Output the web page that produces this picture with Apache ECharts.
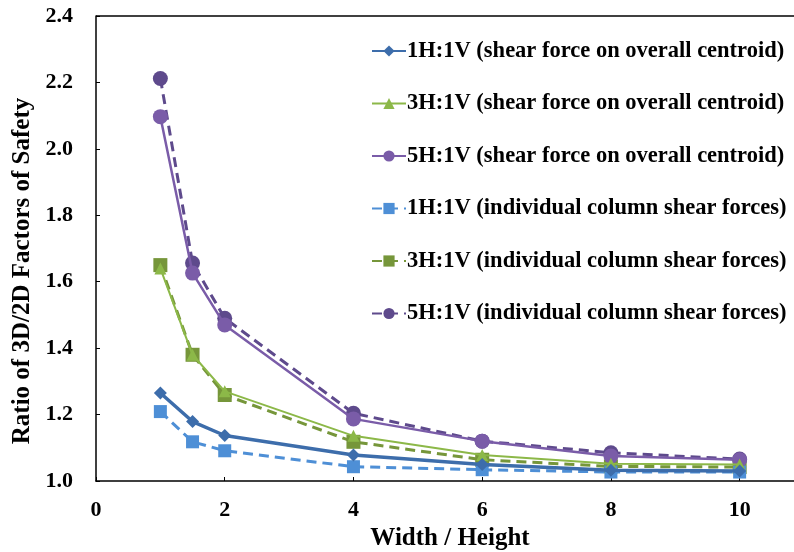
<!DOCTYPE html>
<html>
<head>
<meta charset="utf-8">
<script src="https://cdn.jsdelivr.net/npm/echarts@6/dist/echarts.min.js"></script>
<style>
  html, body { margin: 0; padding: 0; background: #fff; }
  #chart { width: 794px; height: 552px; }
</style>
</head>
<body>
<div id="chart"></div>
<script>
const widthHeight = [1, 1.5, 2, 4, 6, 8, 10]

const h1Centroid = [1.265, 1.179, 1.137, 1.078, 1.050, 1.032, 1.030]
const h3Centroid = [1.640, 1.380, 1.270, 1.136, 1.078, 1.052, 1.050]
const h5Centroid = [2.097, 1.626, 1.470, 1.187, 1.120, 1.075, 1.064]
const h1Column = [1.209, 1.118, 1.091, 1.043, 1.034, 1.027, 1.027]
const h3Column = [1.650, 1.380, 1.259, 1.118, 1.064, 1.044, 1.042]
const h5Column = [2.212, 1.656, 1.490, 1.204, 1.120, 1.085, 1.066]

const seriesNames = [
  '1H:1V (shear force on overall centroid)',
  '3H:1V (shear force on overall centroid)',
  '5H:1V (shear force on overall centroid)',
  '1H:1V (individual column shear forces)',
  '3H:1V (individual column shear forces)',
  '5H:1V (individual column shear forces)'
]

const xTicks = [0, 2, 4, 6, 8, 10]
const yTicks = [1.0, 1.2, 1.4, 1.6, 1.8, 2.0, 2.2, 2.4]
const yTitle = 'Ratio of 3D/2D Factors of Safety'

const font = '"Liberation Serif", "Times New Roman", serif'

function pairs(values) {
  return widthHeight.map((x, i) => [x, values[i]])
}

function lineSeries(name, values, color, symbol, size, width, dashed, z) {
  return {
    name,
    type: 'line',
    data: pairs(values),
    symbol,
    symbolSize: size,
    z,
    itemStyle: { color },
    lineStyle: { color, width, type: dashed ? [10, 6] : 'solid' },
    emphasis: { disabled: true }
  }
}

const chart = echarts.init(document.getElementById('chart'))
chart.setOption({
  animation: false,
  backgroundColor: '#fff',
  grid: { left: 96, right: -10, top: 16, bottom: 71, outerBoundsMode: 'none', containLabel: false },
  legend: {
    orient: 'vertical',
    left: 366,
    top: 33,
    itemWidth: 34,
    itemHeight: 14,
    itemGap: 26.5,
    selectedMode: false,
    textStyle: { fontFamily: font, fontWeight: 'bold', fontSize: 22.5, color: '#000', lineHeight: 26, padding: [0, 0, 0, -4] }
  },
  xAxis: {
    type: 'value',
    min: 0,
    max: 11,
    interval: 2,
    name: 'Width / Height',
    nameLocation: 'middle',
    nameGap: 44,
    nameTextStyle: { fontFamily: font, fontWeight: 'bold', fontSize: 25, color: '#000' },
    axisLine: { lineStyle: { color: '#000', width: 1.5 } },
    axisTick: { inside: true, length: 4, lineStyle: { color: '#000' } },
    axisLabel: {
      fontFamily: font, fontWeight: 'bold', fontSize: 22, color: '#000', margin: 18,
      formatter: v => xTicks.includes(v) ? String(v) : ''
    },
    splitLine: { show: false }
  },
  yAxis: {
    type: 'value',
    min: 1.0,
    max: 2.4,
    interval: 0.2,
    axisLine: { show: true, lineStyle: { color: '#000', width: 1.5 } },
    axisTick: { show: true, inside: true, length: 4, lineStyle: { color: '#000' } },
    axisLabel: {
      fontFamily: font, fontWeight: 'bold', fontSize: 22, color: '#000', margin: 23,
      formatter: v => yTicks.find(t => Math.abs(t - v) < 1e-6).toFixed(1)
    },
    splitLine: { show: false }
  },
  graphic: [
    { type: 'line', shape: { x1: 96, y1: 16, x2: 794, y2: 16 }, style: { stroke: '#000', lineWidth: 1.5 } },
    {
      type: 'text', x: 23, y: 271, rotation: Math.PI / 2,
      style: { text: yTitle, font: 'bold 25px ' + font, fill: '#000', align: 'center', verticalAlign: 'middle' }
    }
  ],
  series: [
    lineSeries(seriesNames[0], h1Centroid, '#3d6dab', 'diamond', 13, 3.5, false, 6),
    lineSeries(seriesNames[1], h3Centroid, '#8cb848', 'triangle', 12, 2, false, 5),
    lineSeries(seriesNames[2], h5Centroid, '#7a5ca8', 'circle', 15, 2.5, false, 4),
    lineSeries(seriesNames[3], h1Column, '#4e8fd6', 'rect', 13, 3, true, 3),
    lineSeries(seriesNames[4], h3Column, '#76963a', 'rect', 14, 3, true, 2),
    lineSeries(seriesNames[5], h5Column, '#5e4a8c', 'circle', 15, 3, true, 1)
  ]
})
</script>
</body>
</html>
